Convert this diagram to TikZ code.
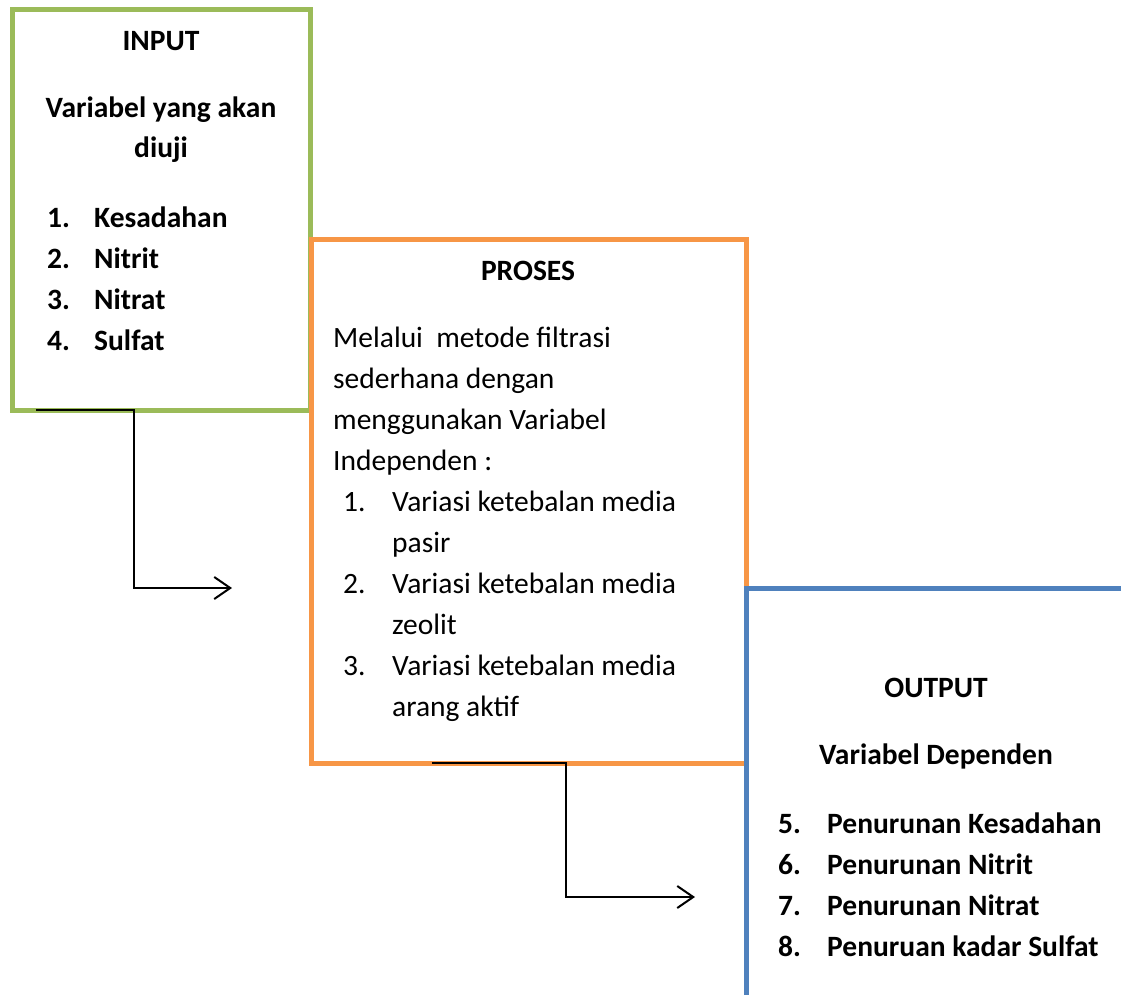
\documentclass[tikz,border=0pt]{standalone}
\usepackage{fontspec}
\setmainfont{Carlito}
\usetikzlibrary{positioning,arrows.meta}
\definecolor{ingreen}{RGB}{155,187,89}
\definecolor{procorange}{RGB}{247,150,70}
\definecolor{outblue}{RGB}{79,129,189}

\tikzset{
	box/.style={draw, line width=5pt, outer sep=0pt, inner sep=0pt, anchor=north west},
	txt/.style={inner sep=0pt, anchor=base west, font=\fontsize{29.5}{41}\selectfont},
	btxt/.style={txt, font=\fontsize{29.5}{41}\selectfont\bfseries},
	ttl/.style={btxt, anchor=base},
	flow/.style={->, line width=2pt},
}

\begin{document}
\begin{tikzpicture}[x=1pt,y=-1pt,>={Straight Barb[length=16pt,width=22pt]}]
	\useasboundingbox (0,0) rectangle (1121,995);
	\clip (0,0) rectangle (1121,995);
	
	% boxes
	\node[box,ingreen,minimum width=298pt,minimum height=400pt] (input) at (12,10) {};
	\node[box,procorange,minimum width=435pt,minimum height=524pt] (proses) at (311,239) {};
	\node[box,outblue,minimum width=500pt,minimum height=500pt] (output) at (746,588) {};
	
	% input
	\node[ttl] (in-title) at (161,51) {INPUT};
	\node[ttl] (in-sub1) at (161,118) {Variabel yang akan};
	\node[ttl] (in-sub2) at (161,158) {diuji};
	\foreach \t [count=\i] in {Kesadahan,Nitrit,Nitrat,Sulfat}{
		\node[btxt] (in-num-\i) at (47,{186+41*\i}) {\i.};
		\node[btxt] (in-item-\i) at (94,{186+41*\i}) {\t};
	}
	
	% proses
	\node[ttl] (pr-title) at (528,280) {PROSES};
	\foreach \t [count=\i] in {Melalui\ \ metode filtrasi,sederhana dengan,menggunakan Variabel,Independen :}{
		\node[txt] (pr-line-\i) at (333,{306+41*\i}) {\t};
	}
	\foreach \t [count=\i] in {pasir,zeolit,arang aktif}{
		\node[txt] (pr-num-\i) at (343,{429+82*\i}) {\i.};
		\node[txt] (pr-item-\i) at (392,{429+82*\i}) {Variasi ketebalan media};
		\node[txt] (pr-rest-\i) at (392,{470+82*\i}) {\t};
	}
	
	% output
	\node[ttl] (out-title) at (936,697) {OUTPUT};
	\node[ttl] (out-sub) at (936,764) {Variabel Dependen};
	\foreach \t [count=\i from 5] in {Penurunan Kesadahan,Penurunan Nitrit,Penurunan Nitrat,Penuruan kadar Sulfat}{
		\node[btxt] (out-num-\i) at (778,{628+41*\i}) {\i.};
		\node[btxt] (out-item-\i) at (827,{628+41*\i}) {\t};
	}
	
	% connectors
	\coordinate (in-end) at (232,588);
	\coordinate (pr-end) at (695,897);
	\draw[flow] ([xshift=24pt]input.south west) -- ++(98,0) |- (in-end);
	\draw[flow] ([xshift=121pt]proses.south west) -- ++(134,0) |- (pr-end);
\end{tikzpicture}
\end{document}
